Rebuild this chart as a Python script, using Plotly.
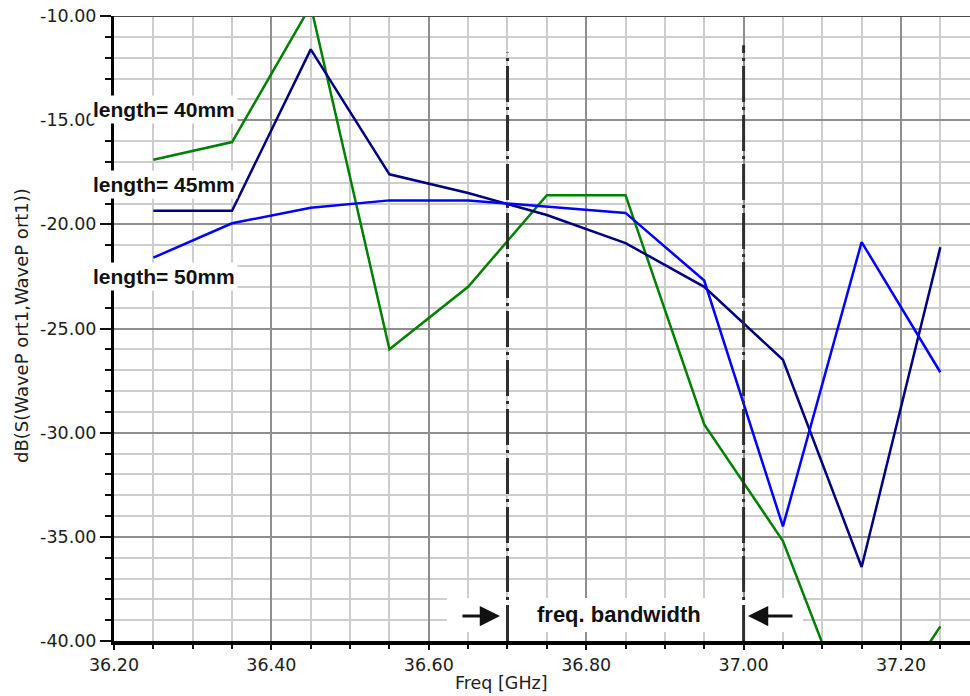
import plotly.graph_objects as go

# Frequency sweep points [GHz]
freq = [36.25, 36.35, 36.45, 36.55, 36.65, 36.75, 36.85, 36.95, 37.05, 37.15, 37.25]

# dB(S11) for the three line lengths
s11_40mm = [-16.9, -16.05, -9.5, -26.0, -23.0, -18.6, -18.6, -29.6, -35.2, -45.0, -39.3]
s11_45mm = [-19.35, -19.35, -11.6, -17.6, -18.5, -19.55, -20.9, -23.0, -26.5, -36.45, -21.1]
s11_50mm = [-21.6, -19.95, -19.2, -18.85, -18.85, -19.15, -19.45, -22.7, -34.5, -20.85, -27.1]

series_names = ["length= 40mm", "length= 45mm", "length= 50mm"]
series_colors = ["#008000", "#000080", "#0000ff"]

# Axis ticks
x_ticks = [36.2, 36.4, 36.6, 36.8, 37.0, 37.2]
x_tick_text = ["36.20", "36.40", "36.60", "36.80", "37.00", "37.20"]
y_ticks = [-40, -35, -30, -25, -20, -15, -10]
y_tick_text = ["-40.00", "-35.00", "-30.00", "-25.00", "-20.00", "-15.00", "-10.00"]

# Bandwidth edges [GHz]
band_lo, band_hi = 36.70, 37.00

x_range = [36.2, 37.2877]
y_range = [-40.0, -10.0]

fig = go.Figure()
for name, vals, col in zip(series_names, [s11_40mm, s11_45mm, s11_50mm], series_colors):
    fig.add_trace(go.Scatter(x=freq, y=vals, mode="lines", name=name,
                             line=dict(color=col, width=2.5), showlegend=False))

dashdot = "36px,5px,3px,5px"
shapes = [
    # white panel behind the bandwidth label
    dict(type="rect", xref="x", yref="y", x0=36.623, x1=37.0755, y0=-39.57, y1=-37.94,
         fillcolor="white", line=dict(width=0), layer="between"),
    # band edges
    dict(type="line", xref="x", yref="y", x0=band_lo, x1=band_lo, y0=-40, y1=-11.75,
         line=dict(color="#2e2e2e", width=3, dash=dashdot), layer="above"),
    dict(type="line", xref="x", yref="y", x0=band_hi, x1=band_hi, y0=-40, y1=-11.4,
         line=dict(color="#2e2e2e", width=3, dash=dashdot), layer="above"),
    # top frame line
    dict(type="line", xref="paper", yref="y", x0=0, x1=1, y0=-10, y1=-10,
         line=dict(color="#4a4a4a", width=2), layer="above"),
]

label_font = dict(family="Liberation Sans, Arial", size=21, color="#111111")
label_y = [-14.51, -18.11, -22.48]
annotations = []
for name, yy in zip(series_names, label_y):
    annotations.append(dict(x=36.263, y=yy, xref="x", yref="y", text="<b>%s</b>" % name,
                            showarrow=False, font=label_font, bgcolor="white",
                            borderpad=2, xanchor="center", yanchor="middle"))

annotations += [
    dict(x=36.842, y=-38.71, xref="x", yref="y", text="<b>freq. bandwidth</b>",
         showarrow=False, font=dict(family="Liberation Sans, Arial", size=22, color="#111111"),
         xanchor="center", yanchor="middle"),
    dict(x=36.6905, y=-38.8, xref="x", yref="y", text="", showarrow=True,
         ax=-39, ay=0, arrowhead=2, arrowsize=1.35, arrowwidth=3, arrowcolor="#111111",
         standoff=0),
    dict(x=37.0056, y=-38.8, xref="x", yref="y", text="", showarrow=True,
         ax=46, ay=0, arrowhead=2, arrowsize=1.35, arrowwidth=3, arrowcolor="#111111",
         standoff=0),
    dict(x=-0.1075, y=0.5056, xref="paper", yref="paper", text="dB(S(WaveP ort1,WaveP ort1))",
         textangle=-90, showarrow=False, xanchor="center", yanchor="middle",
         font=dict(family="DejaVu Sans", size=18, color="#202020")),
    dict(x=0.453, y=-0.067, xref="paper", yref="paper", text="Freq [GHz]",
         showarrow=False, xanchor="center", yanchor="middle",
         font=dict(family="DejaVu Sans", size=17.5, color="#202020")),
]

tick_font = dict(family="DejaVu Sans", size=17.5, color="#202020")

fig.update_layout(
    width=970, height=696,
    margin=dict(l=114, r=0, t=16, b=55),
    paper_bgcolor="white", plot_bgcolor="white",
    shapes=shapes, annotations=annotations,
    xaxis=dict(range=x_range, tickmode="array", tickvals=x_ticks, ticktext=x_tick_text,
               showgrid=True, gridcolor="#8e8e8e", gridwidth=2,
               showline=True, linecolor="black", linewidth=4,
               ticks="outside", ticklen=5, tickwidth=2, tickcolor="#111111",
               tickfont=tick_font, zeroline=False,
               minor=dict(tick0=36.2, dtick=0.05, showgrid=True, gridcolor="#cdcdcd",
                          gridwidth=2, ticks="outside", ticklen=4, tickwidth=2,
                          tickcolor="#111111")),
    yaxis=dict(range=y_range, tickmode="array", tickvals=y_ticks, ticktext=y_tick_text,
               showgrid=True, gridcolor="#8e8e8e", gridwidth=2,
               showline=True, linecolor="black", linewidth=3,
               ticks="outside", ticklen=11, tickwidth=2, tickcolor="#111111",
               tickfont=tick_font, zeroline=False,
               minor=dict(tick0=-40, dtick=1, showgrid=True, gridcolor="#cdcdcd",
                          gridwidth=2, ticks="outside", ticklen=6, tickwidth=2,
                          tickcolor="#111111")),
)

fig.write_html("out.html")
